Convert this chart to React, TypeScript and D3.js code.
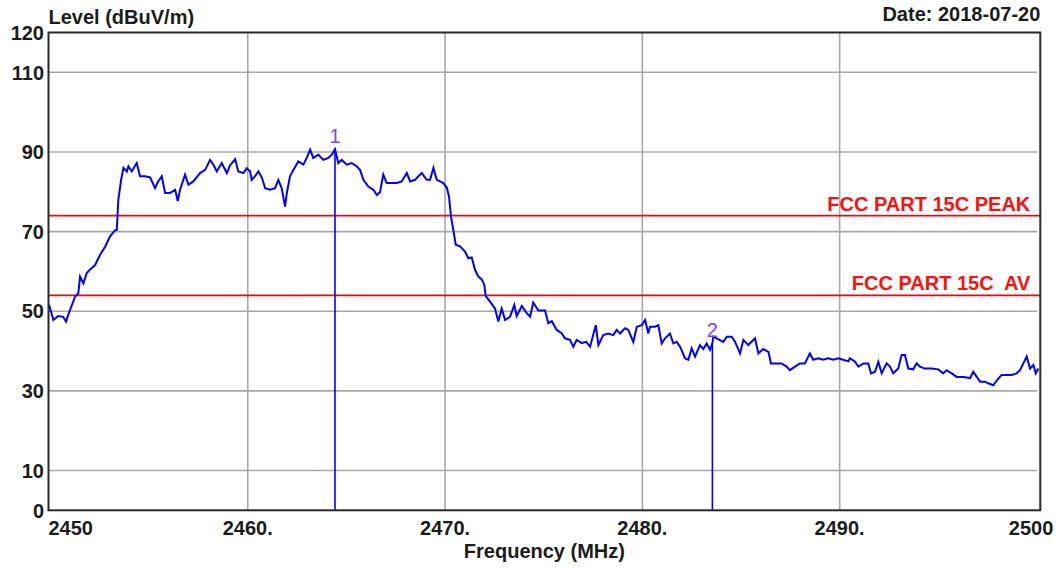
import React from "react";
import * as d3 from "d3";

const freqs = [
  2449.93, 2450.15, 2450.39, 2450.64, 2450.79, 2450.89, 2450.99, 2451.25, 2451.41, 2451.5,
  2451.67, 2451.84, 2452.01, 2452.26, 2452.51, 2452.77, 2453.02, 2453.27, 2453.36, 2453.44,
  2453.58, 2453.7, 2453.87, 2453.95, 2454.12, 2454.37, 2454.54, 2454.8, 2455.05, 2455.3,
  2455.45, 2455.64, 2455.81, 2456.06, 2456.32, 2456.45, 2456.57, 2456.82, 2456.99, 2457.24,
  2457.58, 2457.84, 2458.09, 2458.26, 2458.43, 2458.68, 2458.94, 2459.1, 2459.36, 2459.52,
  2459.78, 2459.95, 2460.12, 2460.2, 2460.37, 2460.54, 2460.72, 2460.88, 2461.13, 2461.38,
  2461.55, 2461.72, 2461.89, 2461.98, 2462.14, 2462.31, 2462.56, 2462.82, 2462.99, 2463.16,
  2463.32, 2463.58, 2463.83, 2464.08, 2464.26, 2464.42, 2464.59, 2464.76, 2465.02, 2465.27,
  2465.52, 2465.69, 2465.86, 2466.11, 2466.37, 2466.54, 2466.7, 2466.87, 2467.04, 2467.3,
  2467.55, 2467.8, 2468.06, 2468.23, 2468.48, 2468.65, 2468.82, 2469.07, 2469.24, 2469.41,
  2469.58, 2469.75, 2469.91, 2470.09, 2470.2, 2470.3, 2470.42, 2470.54, 2470.76, 2471.01,
  2471.18, 2471.35, 2471.52, 2471.69, 2471.86, 2471.99, 2472.06, 2472.28, 2472.53, 2472.7,
  2472.87, 2473.04, 2473.29, 2473.51, 2473.63, 2473.89, 2474.14, 2474.31, 2474.47, 2474.73,
  2475.07, 2475.23, 2475.41, 2475.66, 2475.91, 2476.08, 2476.33, 2476.5, 2476.67, 2476.93,
  2477.15, 2477.35, 2477.64, 2477.77, 2478.02, 2478.27, 2478.53, 2478.7, 2478.87, 2479.12,
  2479.29, 2479.54, 2479.72, 2479.97, 2480.14, 2480.3, 2480.39, 2480.64, 2480.81, 2480.98,
  2481.15, 2481.4, 2481.57, 2481.74, 2481.91, 2482.16, 2482.33, 2482.5, 2482.67, 2482.92,
  2483.09, 2483.26, 2483.43, 2483.55, 2483.6, 2483.84, 2484.1, 2484.28, 2484.53, 2484.7,
  2484.95, 2485.12, 2485.37, 2485.71, 2485.88, 2486.13, 2486.39, 2486.52, 2486.81, 2487.06,
  2487.31, 2487.48, 2487.74, 2487.99, 2488.24, 2488.49, 2488.66, 2488.92, 2489.17, 2489.42,
  2489.68, 2489.93, 2490.18, 2490.44, 2490.52, 2490.78, 2490.95, 2491.2, 2491.45, 2491.59,
  2491.79, 2491.96, 2492.13, 2492.38, 2492.55, 2492.72, 2492.97, 2493.14, 2493.31, 2493.48,
  2493.73, 2493.9, 2494.07, 2494.32, 2494.66, 2495.0, 2495.25, 2495.42, 2495.68, 2495.93,
  2496.27, 2496.61, 2496.77, 2496.95, 2497.12, 2497.37, 2497.53, 2497.79, 2497.96, 2498.21,
  2498.47, 2498.72, 2498.97, 2499.14, 2499.31, 2499.48, 2499.65, 2499.82, 2499.94, 2500.07,
];

const levels = [
  51.6, 47.8, 48.8, 48.6, 47.4, 49.0, 50.3, 53.7, 54.5, 58.7,
  57.0, 59.6, 60.5, 61.6, 64.1, 66.2, 68.8, 70.3, 70.4, 78.0,
  83.0, 86.0, 85.1, 86.4, 85.1, 87.2, 83.9, 83.9, 83.6, 80.9,
  82.5, 83.9, 79.7, 79.7, 80.5, 77.7, 80.5, 84.3, 81.8, 82.6,
  84.7, 85.5, 88.0, 86.8, 85.1, 87.2, 84.7, 86.6, 88.2, 85.1,
  84.7, 85.9, 85.1, 83.0, 83.9, 85.1, 83.5, 80.9, 80.5, 80.9,
  83.0, 80.9, 76.3, 79.7, 83.9, 85.5, 87.6, 86.8, 88.5, 90.6,
  88.5, 89.3, 88.0, 88.5, 89.3, 90.7, 87.2, 88.0, 86.8, 87.2,
  86.4, 85.5, 83.0, 81.3, 80.5, 79.2, 79.9, 84.3, 82.2, 82.2,
  82.2, 82.6, 84.7, 82.6, 83.0, 83.9, 84.7, 83.0, 83.0, 86.0,
  83.0, 82.6, 82.2, 81.0, 78.8, 73.8, 70.4, 66.7, 66.3, 65.0,
  63.3, 63.5, 60.4, 58.7, 58.0, 56.6, 53.8, 52.4, 50.7, 47.4,
  50.7, 47.8, 48.6, 51.6, 48.8, 51.3, 49.5, 48.6, 52.2, 50.2,
  50.2, 47.0, 47.5, 45.3, 44.5, 43.2, 42.8, 41.1, 42.8, 42.0,
  42.3, 41.1, 46.5, 41.5, 44.0, 44.4, 44.0, 45.3, 44.4, 45.7,
  45.3, 42.3, 46.1, 46.5, 47.8, 44.4, 46.1, 46.1, 46.5, 41.9,
  43.2, 44.4, 41.9, 42.3, 41.1, 38.2, 37.8, 40.7, 38.6, 41.5,
  40.5, 41.9, 40.3, 42.0, 43.6, 43.0, 42.3, 43.6, 43.6, 42.3,
  39.4, 42.8, 41.5, 43.2, 39.4, 40.5, 39.8, 36.9, 36.9, 36.9,
  36.1, 35.2, 36.1, 36.9, 36.9, 39.4, 37.8, 38.2, 37.8, 38.2,
  37.8, 38.2, 37.8, 37.4, 38.2, 37.3, 36.1, 36.9, 36.9, 34.4,
  34.8, 37.3, 34.4, 36.9, 36.1, 34.4, 35.6, 39.0, 39.0, 35.6,
  35.4, 36.9, 36.1, 35.6, 35.6, 35.4, 34.4, 35.2, 34.4, 33.5,
  33.5, 33.2, 34.8, 33.5, 32.3, 32.3, 31.9, 31.4, 32.6, 34.0,
  34.0, 34.0, 34.4, 35.2, 36.9, 38.6, 35.6, 36.5, 34.4, 35.6,
];

const yTickValues = [0, 10, 30, 50, 70, 90, 110, 120];
const yGridValues = [10, 30, 50, 70, 90, 110];
const xGridValues = [2460, 2470, 2480, 2490];
const xTickValues = [2450, 2460, 2470, 2480, 2490, 2500];
const xTickLabels = ["2450", "2460.", "2470.", "2480.", "2490.", "2500"];
const limitValues = [74, 54];
const limitLabels = ["FCC PART 15C PEAK", "FCC PART 15C  AV"];
const markerFreqs = [2464.42, 2483.55];
const markerLevels = [90.7, 42.0];
const markerLabels = ["1", "2"];

const W = 1061;
const H = 569;
const left = 48.5;
const right = 1040.3;
const top = 32.5;
const bottom = 510.3;
const FONT = "'Liberation Sans', Arial, sans-serif";
const TEXT = "#1c1c1c";

export default function App() {
  const x = d3.scaleLinear().domain([2449.9, 2500.17]).range([left, right]);
  const y = d3.scaleLinear().domain([0, 120]).range([bottom, top]);
  const line = d3
    .line<number>()
    .x((_, i) => x(freqs[i]))
    .y((d) => y(d));

  return (
    <svg
      width={W}
      height={H}
      style={{ position: "absolute", left: 0, top: 0, display: "block", background: "#fff" }}
    >
      <rect x={0} y={0} width={W} height={H} fill="#fff" />
      {yGridValues.map((v) => (
        <line key={"gy" + v} x1={left} x2={right - 3} y1={y(v)} y2={y(v)} stroke="#a8a8a8" strokeWidth={1.6} />
      ))}
      {xGridValues.map((v) => (
        <line key={"gx" + v} x1={x(v)} x2={x(v)} y1={top} y2={bottom} stroke="#a8a8a8" strokeWidth={1.6} />
      ))}
      {limitValues.map((v, i) => (
        <g key={"lim" + i}>
          <line x1={left} x2={right} y1={y(v)} y2={y(v)} stroke="#ff0000" strokeWidth={1.8} />
          <text
            x={right - 10}
            y={y(v) - 5}
            textAnchor="end"
            fill="#ff1010"
            fontFamily={FONT}
            fontWeight="bold"
            fontSize={20}
            style={{ whiteSpace: "pre" }}
          >
            {limitLabels[i]}
          </text>
        </g>
      ))}
      <path d={line(levels) || ""} fill="none" stroke="#0000ff" strokeWidth={2} strokeLinejoin="miter" />
      {markerFreqs.map((f, i) => (
        <g key={"mk" + i}>
          <line x1={x(f)} x2={x(f)} y1={y(markerLevels[i])} y2={bottom} stroke="#0000ff" strokeWidth={1.6} />
          <text
            x={x(f)}
            y={y(markerLevels[i]) - 6}
            textAnchor="middle"
            fill="#7f45ff"
            fontFamily={FONT}
            fontSize={20}
          >
            {markerLabels[i]}
          </text>
        </g>
      ))}
      <rect x={left} y={top} width={right - left} height={bottom - top} fill="none" stroke="#2a2a2a" strokeWidth={2} />
      {yTickValues.map((v) => (
        <text
          key={"yt" + v}
          x={44}
          y={y(v)}
          dy="0.36em"
          textAnchor="end"
          fill={TEXT}
          fontFamily={FONT}
          fontWeight="bold"
          fontSize={20}
        >
          {v}
        </text>
      ))}
      {xTickValues.map((v, i) => {
        const first = i === 0;
        const last = i === xTickValues.length - 1;
        return (
          <text
            key={"xt" + v}
            x={first ? left : last ? right + 13 : x(v)}
            y={535}
            textAnchor={first ? "start" : last ? "end" : "middle"}
            fill={TEXT}
            fontFamily={FONT}
            fontWeight="bold"
            fontSize={20}
          >
            {xTickLabels[i]}
          </text>
        );
      })}
      <text x={left} y={24} fill={TEXT} fontFamily={FONT} fontWeight="bold" fontSize={20}>
        Level (dBuV/m)
      </text>
      <text x={right} y={21} textAnchor="end" fill={TEXT} fontFamily={FONT} fontWeight="bold" fontSize={20}>
        Date: 2018-07-20
      </text>
      <text x={(left + right) / 2} y={558} textAnchor="middle" fill={TEXT} fontFamily={FONT} fontWeight="bold" fontSize={20}>
        Frequency (MHz)
      </text>
    </svg>
  );
}
